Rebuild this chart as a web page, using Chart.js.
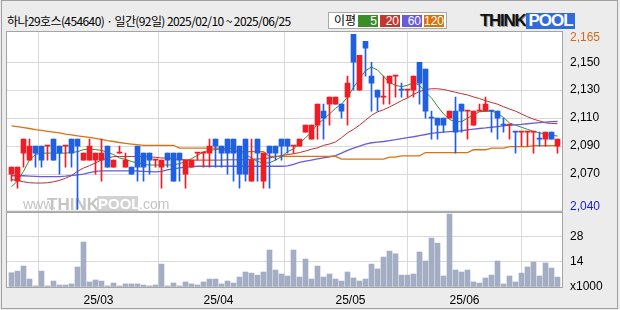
<!DOCTYPE html>
<html>
<head>
<meta charset="utf-8">
<title>하나29호스 일간 차트</title>
<script src="https://cdn.jsdelivr.net/npm/chart.js@4.4.1/dist/chart.umd.min.js"></script>
<style>
  body{margin:0;background:#ececec;font-family:'Noto Sans CJK KR',sans-serif;}
  #wrap{position:relative;width:620px;height:310px;overflow:hidden;background:#ececec;}
  #frame{position:absolute;left:1px;top:0;width:617px;height:309px;border:1px solid #a0a0a0;box-sizing:border-box;}
  #title{position:absolute;left:7px;top:13px;font-size:12px;line-height:16px;color:#000;letter-spacing:-0.6px;white-space:nowrap;}
  #legend{position:absolute;left:328px;top:12px;width:119px;height:17px;background:#fff;border:1px solid #a8a8a8;box-sizing:border-box;font-size:12px;}
  #legend .lbl{position:absolute;left:5px;top:-1px;line-height:16px;}
  #legend .box{position:absolute;top:2px;height:12px;color:#fff;text-align:right;line-height:12px;font-family:'Liberation Sans',sans-serif;padding-right:1px;box-sizing:border-box;}
  #logo{position:absolute;left:480px;top:13px;height:16px;font-family:'Liberation Sans',Arial,sans-serif;font-weight:bold;font-size:17px;line-height:16px;white-space:nowrap;}
  #logo .t{color:#111;letter-spacing:-1.3px;text-shadow:1px 1px 0 #999;}
  #logo .p{display:inline-block;background:#2f6bdc;color:#fff;letter-spacing:-1px;padding:0 2px;margin-left:1px;}
  canvas{position:absolute;left:0;}
</style>
</head>
<body>
<div id="wrap">
  <div id="frame"></div>
  <div id="title">하나29호스(454640) · 일간(92일) 2025/02/10 ~ 2025/06/25</div>
  <div id="legend">
    <span class="lbl">이평</span>
    <span class="box" style="left:29px;width:20px;background:#3d8c2a">5</span>
    <span class="box" style="left:51px;width:20px;background:#c0392e">20</span>
    <span class="box" style="left:73px;width:20px;background:#6a5cd8">60</span>
    <span class="box" style="left:95px;width:20px;background:#d9720e">120</span>
  </div>
  <div id="logo"><span class="t">THINK</span><span class="p">POOL</span></div>
  <canvas id="price" width="620" height="226" style="top:0"></canvas>
  <canvas id="volume" width="620" height="113" style="top:197px"></canvas>
</div>
<script>
// daily candles, 2025/02/10 ~ 2025/06/25 (92 trading days)
const open = [2070,2065,2085,2080,2090,2090,2090,2095,2090,2090,
  2095,2095,2080,2080,2080,2080,2090,2075,2085,2075,
  2075,2090,2085,2085,2080,2075,2085,2085,2085,2070,
  2075,2085,2085,2085,2095,2090,2095,2095,2090,2095,
  2065,2095,2065,2090,2090,2095,2095,2090,2090,2100,
  2095,2105,2115,2120,2120,2120,2125,2170,2130,2165,
  2140,2130,2125,2135,2140,2130,2130,2130,2150,2145,
  2110,2110,2110,2110,2115,2120,2115,2105,2115,2115,
  2115,2115,2105,2105,2100,2100,2100,2100,2095,2095,
  2100,2090];
const high = [2075,2075,2095,2095,2090,2090,2090,2095,2090,2090,
  2095,2095,2085,2095,2085,2095,2090,2080,2090,2085,
  2075,2090,2085,2085,2080,2080,2085,2085,2085,2080,
  2080,2085,2085,2095,2095,2090,2095,2095,2090,2095,
  2095,2095,2085,2090,2090,2095,2095,2090,2095,2105,
  2105,2120,2120,2125,2125,2120,2140,2170,2155,2165,
  2150,2130,2140,2140,2140,2135,2130,2140,2150,2145,
  2115,2110,2110,2115,2125,2120,2115,2115,2120,2125,
  2115,2115,2110,2105,2100,2100,2100,2100,2100,2100,
  2100,2095];
const low = [2065,2060,2075,2080,2075,2075,2080,2080,2070,2075,
  2075,2045,2080,2080,2070,2065,2075,2075,2085,2075,
  2070,2065,2065,2070,2075,2060,2075,2065,2065,2060,
  2075,2080,2075,2075,2075,2075,2070,2065,2060,2065,
  2065,2065,2060,2060,2080,2080,2085,2085,2090,2100,
  2095,2095,2095,2105,2120,2110,2105,2130,2130,2140,
  2115,2115,2120,2120,2125,2125,2125,2125,2120,2110,
  2095,2095,2100,2110,2085,2100,2095,2105,2115,2115,
  2100,2095,2100,2095,2085,2090,2090,2085,2090,2090,
  2095,2085];
const close = [2075,2075,2095,2090,2085,2080,2090,2080,2085,2090,
  2085,2090,2085,2090,2085,2085,2075,2080,2085,2080,
  2070,2075,2075,2080,2080,2080,2080,2065,2080,2080,
  2080,2085,2085,2090,2090,2085,2085,2085,2070,2070,
  2080,2085,2085,2085,2085,2090,2090,2090,2095,2105,
  2105,2120,2110,2125,2125,2115,2135,2150,2155,2160,
  2135,2125,2125,2140,2140,2130,2130,2140,2135,2115,
  2110,2105,2105,2115,2100,2115,2115,2115,2115,2120,
  2115,2110,2105,2105,2100,2100,2100,2100,2095,2100,
  2095,2095];
// volume, x1000 shares
const volume = [7.9,8.8,11.6,4.4,0.6,8.8,0.6,3.3,1.1,1.1,
  1.7,11.1,24.9,2.8,3.9,3.3,0.6,2.2,0.6,1.7,
  1.7,1.7,1.1,0.6,1.1,12.7,0.6,2.2,0.6,2.8,
  1.7,1.1,2.8,4.4,4.4,1.7,3.3,2.2,5.5,8.3,
  7.7,6.6,8.3,20.5,9.4,7.2,6.1,20.5,5.5,15.5,
  4.4,11.6,5.5,7.2,4.4,3.3,8.3,5.0,3.3,4.4,
  12.7,10.0,16.6,19.9,18.4,6.6,6.6,7.2,19.4,14.4,
  27.1,24.3,6.1,40.4,9.4,8.3,9.4,2.8,2.2,5.0,
  6.6,14.4,1.7,6.1,2.8,7.7,11.1,13.8,6.1,13.3,
  10.5,5.5];
// moving averages as drawn on the chart
const ma5 = [2061,2065,2072,2080,2084,2085,2085,2085,2085,2085,
  2085.5,2086,2087.5,2088,2087.5,2087,2085.5,2084,2081.5,2080.5,
  2079,2078,2077,2076.5,2076.5,2076.5,2076.5,2076.5,2077.5,2079,
  2081,2083.5,2086,2087,2087.5,2088,2088.5,2088,2086,2084,
  2081.5,2079,2078,2078,2080,2082.5,2086,2088,2092,2096,
  2100,2106,2109,2113,2117,2120,2125,2132,2138,2144,
  2146.5,2144.5,2140,2135.5,2133.5,2132.5,2133.5,2135.5,2133.5,2128.5,
  2124.5,2118.5,2113,2109,2107.5,2107.5,2110,2112.5,2114.5,2115,
  2115,2113.5,2110.5,2106.5,2105,2103.5,2102,2100.5,2099.5,2098.5,
  2097.8,2097.2];
const ma20 = [2066,2065.5,2064.5,2063.8,2063.6,2063.6,2063.8,2064.5,2065.5,2067,
  2069,2072,2074.3,2076,2078,2080,2081.5,2082.5,2082.6,2082.6,
  2082.6,2082.6,2082.4,2082.3,2082,2081.5,2081.5,2081,2080.5,2080.2,
  2080,2080,2080,2080,2080,2080,2080.2,2080.2,2080.2,2080.4,
  2080.6,2080.8,2081,2081.6,2082.4,2083.2,2084,2084.5,2085.4,2086.5,
  2087.8,2088.8,2090.5,2091.5,2093,2096,2099.5,2102,2105,2108.5,
  2112,2114.5,2116,2118,2120.2,2122.5,2124.5,2127,2129,2130.5,
  2131,2131,2130.5,2129.5,2128.5,2127.5,2126.6,2125.2,2124,2122.5,
  2121.2,2120,2118.2,2116.5,2115,2113,2111,2109.3,2108,2106.6,
  2106.2,2106];
const ma60 = [2068.8,2068.8,2068.8,2068.6,2068.4,2068.2,2068.2,2068.2,2068.2,2068.5,
  2069,2069.5,2070,2071,2072,2072.3,2072.3,2072.3,2072.3,2072.3,
  2072.3,2072.2,2072,2071.8,2071.6,2072,2073,2073.8,2074.5,2075,
  2075.4,2075.6,2075.6,2075.6,2075.6,2075.6,2075.6,2075.6,2075.6,2075.6,
  2075.6,2075.6,2075.6,2075.6,2075.6,2075.6,2075.9,2077,2078.3,2079.2,
  2080,2080.8,2081.6,2082.4,2083.2,2085,2087,2088.5,2090,2091.5,
  2092.4,2092.9,2093.3,2094,2094.6,2095.3,2096,2096.7,2097.5,2098.3,
  2099.1,2099.6,2100,2100.3,2100.6,2101,2101.6,2102.1,2102.6,2103,
  2103.5,2104,2104.5,2105,2105.2,2105.5,2106,2106.4,2106.8,2107.2,
  2107.5,2107.6];
const ma120 = [2104.5,2104,2103.3,2102.6,2101.8,2101.2,2100.6,2100,2099.4,2098.6,
  2098,2097.4,2096.8,2096.2,2095.5,2094.8,2094,2093.3,2092.6,2092,
  2091.5,2091,2090.6,2090.6,2090.6,2090.6,2090.6,2090.6,2088.6,2088.6,
  2088.6,2088.6,2088.6,2088.6,2088.6,2088.6,2086,2086,2086,2086,
  2086,2086,2086,2082.6,2082.6,2082.6,2082.6,2082.6,2082.6,2082.6,
  2082.6,2082.6,2082.6,2082.6,2082.6,2080.7,2080.7,2080.7,2080.7,2080.7,
  2080.7,2080.7,2080.7,2082.1,2082.1,2083,2083,2083,2083,2085.4,
  2085.4,2085.4,2085.4,2085.4,2085.4,2085.4,2085.4,2087.4,2087.4,2087.4,
  2088.6,2088.6,2088.6,2089.7,2089.7,2089.7,2089.7,2090.4,2090.4,2090.4,
  2090.4,2090.4];

// axis text
const monthStart = [15, 35, 57, 76];           // index of first trading day
const monthLabels = ['25/03', '25/04', '25/05', '25/06'];
const priceGrid = [2070, 2090, 2110, 2130, 2150];
const priceGridLabels = ['2,070', '2,090', '2,110', '2,130', '2,150'];
const priceMaxLabel = '2,165';
const priceMinLabel = '2,040';
const volGrid = [14, 28];
const volUnitLabel = 'x1000';

const RED = '#ee1c25', BLUE = '#1f5fe3';
const GRID = '#d9d9d9';
const tickFont = { family: "'Liberation Sans', Arial, sans-serif", size: 12 };

const idx = close.map((_, i) => i);
const candleColor = idx.map(i => {
  if (close[i] > open[i]) return RED;
  if (close[i] < open[i]) return BLUE;
  return (i === 0 || close[i] >= close[i - 1]) ? RED : BLUE;
});

const panel = {
  id: 'panel',
  beforeDraw(chart) {
    const a = chart.chartArea, c = chart.ctx;
    c.save(); c.fillStyle = '#fff';
    c.fillRect(a.left, a.top, a.right - a.left, a.bottom - a.top);
    c.restore();
  },
  afterDraw(chart) {
    const a = chart.chartArea, c = chart.ctx;
    c.save(); c.strokeStyle = '#a4a4a4'; c.lineWidth = 1;
    c.strokeRect(a.left - 0.5, a.top - 0.5, a.right - a.left + 1, a.bottom - a.top + 1);
    c.restore();
  }
};

// faint site mark under the candles
const watermark = {
  id: 'watermark',
  beforeDatasetsDraw(chart) {
    const c = chart.ctx;
    c.save();
    c.textBaseline = 'alphabetic';
    c.fillStyle = '#c4c4c4';
    c.font = "14px 'Liberation Sans', Arial, sans-serif";
    c.fillText('www.', 23, 209);
    c.font = "bold 17px 'Liberation Sans', Arial, sans-serif";
    c.fillText('THINK', 47, 210);
    c.fillStyle = '#d2d2d2';
    c.fillRect(97, 196, 41, 15);
    c.fillStyle = '#fff';
    c.font = "bold 15px 'Liberation Sans', Arial, sans-serif";
    c.fillText('POOL', 98, 209);
    c.fillStyle = '#c4c4c4';
    c.font = "14px 'Liberation Sans', Arial, sans-serif";
    c.fillText('.com', 139, 209);
    c.restore();
  }
};

const xScale = (withLabels) => ({
  type: 'linear', min: -0.75, max: 91.75, offset: false,
  afterBuildTicks: s => { s.ticks = monthStart.map(i => ({ value: i - 0.5 })); },
  ticks: {
    display: withLabels, font: tickFont, color: '#000', padding: 6,
    maxRotation: 0, autoSkip: false,
    callback: v => monthLabels[monthStart.indexOf(v + 0.5)]
  },
  grid: { color: GRID, drawTicks: false },
  border: { display: false },
  afterFit: s => { s.height = withLabels ? 23 : 0; }
});

const PRICE_MAX = 2171.6, PRICE_MIN = 2043.75;
const topLabelAt = PRICE_MAX - 4.3, bottomLabelAt = PRICE_MIN + 2.9;

const maLine = (data, color, w) => ({
  type: 'line', data: data.map((v, i) => ({ x: i, y: v })),
  borderColor: color, borderWidth: w, pointRadius: 0, tension: 0, order: 3
});

new Chart(document.getElementById('price'), {
  type: 'bar',
  data: {
    datasets: [
      maLine(ma120, '#d9720e', 1.3),
      maLine(ma60, '#6a5cd8', 1.3),
      maLine(ma20, '#b83030', 1),
      maLine(ma5, '#3d8c2a', 1),
      {
        data: idx.map(i => ({ x: i, y: [low[i], high[i]] })),
        backgroundColor: candleColor, barThickness: 1, grouped: false,
        minBarLength: 1, order: 2
      },
      {
        data: idx.map(i => ({ x: i, y: [open[i], close[i]] })),
        backgroundColor: candleColor, barThickness: 5, grouped: false,
        minBarLength: 1, order: 1
      }
    ]
  },
  options: {
    responsive: false, animation: false, devicePixelRatio: 1,
    layout: { padding: { left: 7, top: 32, right: 0, bottom: 15 } },
    plugins: { legend: { display: false }, tooltip: { enabled: false } },
    scales: {
      x: xScale(false),
      y: {
        position: 'right', min: PRICE_MIN, max: PRICE_MAX,
        afterBuildTicks: s => {
          s.ticks = [{ value: bottomLabelAt }, ...priceGrid.map(v => ({ value: v })), { value: topLabelAt }];
        },
        ticks: {
          font: tickFont, padding: 8,
          color: ctx => ctx.tick.value === topLabelAt ? '#d2691e' : ctx.tick.value === bottomLabelAt ? '#1a1acc' : '#000',
          callback: v => v === topLabelAt ? priceMaxLabel : v === bottomLabelAt ? priceMinLabel : priceGridLabels[priceGrid.indexOf(v)]
        },
        grid: { color: ctx => priceGrid.includes(ctx.tick.value) ? GRID : 'rgba(0,0,0,0)', drawTicks: false },
        border: { display: false },
        afterFit: s => { s.width = 58; }
      }
    }
  },
  plugins: [panel, watermark]
});

new Chart(document.getElementById('volume'), {
  type: 'bar',
  data: {
    datasets: [{
      data: idx.map(i => ({ x: i, y: volume[i] })),
      backgroundColor: '#a3adc3', barThickness: 5, grouped: false
    }]
  },
  options: {
    responsive: false, animation: false, devicePixelRatio: 1,
    layout: { padding: { left: 7, top: 16, right: 0, bottom: 0 } },
    plugins: { legend: { display: false }, tooltip: { enabled: false } },
    scales: {
      x: xScale(true),
      y: {
        position: 'right', min: 0, max: 41,
        afterBuildTicks: s => { s.ticks = [0, ...volGrid].map(v => ({ value: v })); },
        ticks: { font: tickFont, color: '#000', padding: 8, callback: v => v === 0 ? volUnitLabel : String(v) },
        grid: { color: ctx => ctx.tick.value === 0 ? 'rgba(0,0,0,0)' : GRID, drawTicks: false },
        border: { display: false },
        afterFit: s => { s.width = 58; }
      }
    }
  },
  plugins: [panel]
});
</script>
</body>
</html>
